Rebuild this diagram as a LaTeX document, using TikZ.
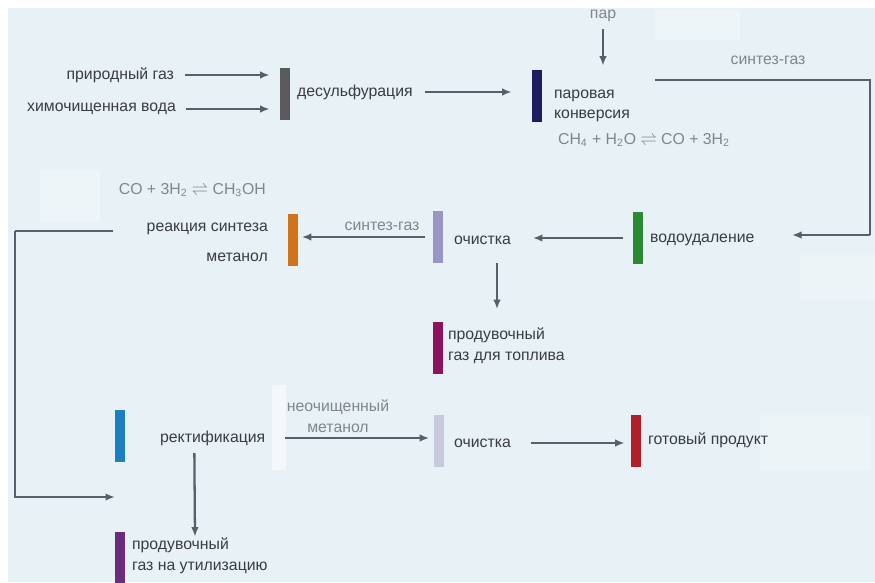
\documentclass[tikz,border=0pt]{standalone}
\usepackage{fontspec}
\setmainfont{Liberation Sans}
\usetikzlibrary{arrows.meta,calc}
\definecolor{Ink}{HTML}{3A3D40}
\definecolor{Soft}{HTML}{80868C}
\definecolor{Wire}{HTML}{56606A}
\definecolor{Sky}{HTML}{E8F1F6}
\definecolor{BarDes}{HTML}{5A5A5C}
\definecolor{BarConv}{HTML}{1E1B5E}
\definecolor{BarSyn}{HTML}{D2731C}
\definecolor{BarCleanA}{HTML}{9B95C4}
\definecolor{BarWater}{HTML}{2A8A34}
\definecolor{BarFuel}{HTML}{8C145F}
\definecolor{BarRect}{HTML}{1B7FC0}
\definecolor{BarCleanB}{HTML}{C8CADC}
\definecolor{BarProd}{HTML}{AF1F2A}
\definecolor{BarWaste}{HTML}{6B2C7C}

\begin{document}
\begin{tikzpicture}[x=0.02cm,y=-0.02cm,
          bar/.style={fill=#1,draw=none,minimum width=0.2cm,minimum height=1.04cm,inner sep=0pt},
          lbl/.style={text=Ink,font=\fontsize{9}{11}\selectfont,inner sep=1pt},
          note/.style={text=Soft,font=\fontsize{9}{11}\selectfont,inner sep=1pt},
          flow/.style={-{Latex[length=1.9mm,width=1.5mm]},draw=Wire,line width=1.3pt},
          pipe/.style={draw=Wire,line width=1.3pt}]
        \useasboundingbox (0,0) rectangle (875,582);
        \fill[Sky] (8,8) rectangle (875,582);
        \fill[white,opacity=0.55] (272,385) rectangle (286,470);
        \fill[white,opacity=0.3] (40,170) rectangle (100,222);
        \fill[white,opacity=0.3] (655,10) rectangle (740,40);
        \fill[white,opacity=0.25] (800,255) rectangle (875,300);
        \fill[white,opacity=0.25] (760,415) rectangle (870,470);

        % bars
        \node[bar=BarDes] (desbar) at (285,94) {};
        \node[bar=BarConv] (convbar) at (537,96) {};
        \node[bar=BarSyn] (synbar) at (292.5,239.5) {};
        \node[bar=BarCleanA] (cleanAbar) at (437.5,237) {};
        \node[bar=BarWater] (waterbar) at (637.5,238) {};
        \node[bar=BarFuel] (fuelbar) at (437.5,347.5) {};
        \node[bar=BarRect] (rectbar) at (120,436) {};
        \node[bar=BarCleanB] (cleanBbar) at (438.5,441) {};
        \node[bar=BarProd] (prodbar) at (636,440.5) {};
        \node[bar=BarWaste,minimum height=1.12cm] (wastebar) at (120,560) {};

        % texts
        \node[lbl,anchor=east] (gas) at (176,75) {природный газ};
        \node[lbl,anchor=east] (water) at (178,109) {химочищенная вода};
        \node[lbl,anchor=west] (des) at (295,92) {десульфурация};
        \node[note,anchor=south] (steam) at (603,24) {пар};
        \node[lbl,anchor=west,align=left] (conv) at (552,106) {паровая\\конверсия};
        \node[note,anchor=west] (eqconv) at (556,140) {CH\textsubscript{4} + H\textsubscript{2}O $\rightleftharpoons$ CO + 3H\textsubscript{2}};
        \node[note] (sgtop) at (768,60) {синтез-газ};
        \node[lbl,anchor=west] (dry) at (648,240) {водоудаление};
        \node[lbl,anchor=west] (cleanA) at (452,240) {очистка};
        \node[lbl,anchor=west,align=left] (fuel) at (446,346) {продувочный\\[1pt]газ для топлива};
        \node[note] (sgmid) at (382,226) {синтез-газ};
        \node[note,anchor=east] (eqsyn) at (268,190) {CO + 3H\textsubscript{2} $\rightleftharpoons$ CH\textsubscript{3}OH};
        \node[lbl,anchor=east,align=right] (syn) at (270,242) {реакция синтеза\\[6pt]метанол};
        \node[lbl,anchor=west] (rect) at (158,438) {ректификация};
        \node[note,align=center] (raw) at (338,416) {неочищенный\\[1pt]метанол};
        \node[lbl,anchor=west] (cleanB) at (452,443) {очистка};
        \node[lbl,anchor=west] (prod) at (646,440) {готовый продукт};
        \node[lbl,anchor=west,align=left] (waste) at (130,556) {продувочный\\[1pt]газ на утилизацию};

        \coordinate (sgout) at (655,80);
        \coordinate (loopR) at (870,235);
        \coordinate (sgin) at (792,235);
        \coordinate (synout) at (113,231);
        \coordinate (loopL) at (15,231);
        \coordinate (rectin) at (115,497);

        % connectors
        \draw[flow,shorten <=0.18cm,shorten >=0.2cm] (gas.east) -- (gas.east -| desbar.west);
        \draw[flow,shorten <=0.16cm,shorten >=0.2cm] (water.east) -- (water.east -| desbar.west);
        \draw[flow,shorten <=0.2cm,shorten >=0.4cm] (des.east) -- (des.east -| convbar.west);
        \draw[flow,shorten <=0.1cm,shorten >=0.08cm] (steam.south) -- (steam.south |- convbar.north);
        \draw[pipe] (sgout) -| (loopR);
        \draw[flow] (loopR) -- (sgin);
        \draw[flow,shorten <=0.18cm,shorten >=0.4cm] (waterbar.west) -- (waterbar.west -| cleanA.east);
        \draw[flow] ($(cleanAbar.south)+(59.5,0)$) -- ($(fuelbar.north)+(59.5,-12)$);
        \draw[flow,shorten <=0.14cm,shorten >=0.08cm] (cleanAbar.west) -- (cleanAbar.west -| synbar.east);
        \draw[pipe] (synout) -- (loopL);
        \draw[flow] (loopL) |- (rectin);
        \draw[flow] ($(rectbar.east)+(69,17)$) -- ($(wastebar.north)+(75,5)$);
        \draw[flow,shorten <=0.36cm,shorten >=0.08cm] (rect.east) -- (rect.east -| cleanBbar.west);
        \draw[flow,shorten <=0.36cm,shorten >=0.12cm] (cleanB.east) -- (cleanB.east -| prodbar.west);
      \end{tikzpicture}
\end{document}
